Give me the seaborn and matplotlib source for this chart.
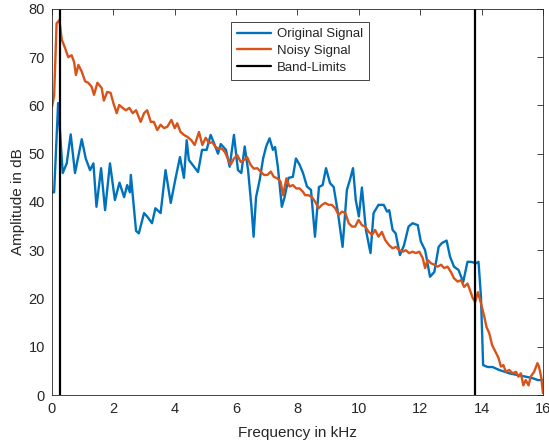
import matplotlib
matplotlib.use("Agg")
import matplotlib.pyplot as plt
import seaborn as sns

# Data
orig_f = [0.0, 0.07, 0.2, 0.35, 0.48, 0.61, 0.75, 0.97, 1.1, 1.24, 1.35, 1.45, 1.6, 1.73, 1.89,
          2.05, 2.2, 2.35, 2.45, 2.54, 2.57, 2.74, 2.83, 3.0, 3.1, 3.26, 3.37, 3.54, 3.7, 3.87,
          4.03, 4.17, 4.3, 4.39, 4.46, 4.63, 4.76, 4.89, 5.04, 5.17, 5.28, 5.41, 5.5, 5.67, 5.79,
          5.93, 6.06, 6.17, 6.28, 6.39, 6.5, 6.57, 6.65, 6.77, 6.88, 6.98, 7.09, 7.2, 7.27, 7.36,
          7.49, 7.58, 7.71, 7.85, 7.95, 8.07, 8.18, 8.31, 8.44, 8.57, 8.7, 8.82, 8.93, 9.06, 9.18,
          9.32, 9.47, 9.61, 9.71, 9.81, 9.9, 10.0, 10.1, 10.23, 10.38, 10.48, 10.64, 10.81, 10.92,
          10.99, 11.1, 11.2, 11.34, 11.47, 11.62, 11.75, 11.92, 12.02, 12.16, 12.32, 12.46, 12.6,
          12.71, 12.86, 12.97, 13.1, 13.25, 13.4, 13.54, 13.65, 13.82, 13.9, 13.98, 14.05, 14.2,
          14.36, 14.57, 14.9, 15.2, 15.44, 15.66, 15.83, 16.0]
orig_db = [42, 42, 60.5, 46, 48, 54, 46, 53, 49, 46.6, 48, 39, 47, 38.3, 48,
           40.4, 44, 41, 43.5, 42, 45.6, 34, 33.5, 37.7, 37, 35.6, 38.7, 37.7, 46.6, 39.8,
           45, 49.3, 45, 52.8, 48.7, 47.3, 46.2, 50.8, 50.8, 53.9, 52.2, 50, 52, 50.8, 47.3,
           53.9, 46.6, 46, 51.5, 46.6, 39, 32.8, 41, 44.6, 49, 51.5, 53.2, 50.8, 51.4, 47.3,
           39, 41, 45, 45.2, 49, 47.7, 46, 43.2, 42.5, 32.8, 43.1, 43.5, 47, 43.9, 43.1,
           37.7, 30.7, 42.5, 44.6, 47, 40.4, 37, 43, 34.2, 29.4, 37.7, 39.4, 39.4, 38,
           38.3, 34.2, 33.5, 29, 31, 34.9, 35.6, 35.2, 31.8, 30, 24.5, 25.5, 30.7,
           31.5, 32, 28.7, 26.6, 25.9, 23.4, 27.6, 27.6, 27.3, 27.6, 20.3, 6.2, 5.8,
           5.8, 5.2, 4.5, 4.1, 3.8, 3.5, 3.1, 3.1]

noisy_f = [0.0, 0.07, 0.15, 0.24, 0.32, 0.42, 0.53, 0.64, 0.72, 0.78, 0.86, 0.97, 1.08, 1.18,
           1.29, 1.37, 1.48, 1.62, 1.69, 1.8, 1.91, 2.0, 2.11, 2.19, 2.3, 2.41, 2.52, 2.63, 2.74,
           2.89, 3.0, 3.1, 3.22, 3.32, 3.43, 3.54, 3.65, 3.76, 3.89, 4.0, 4.08, 4.19, 4.3, 4.41,
           4.54, 4.65, 4.79, 4.9, 5.01, 5.12, 5.22, 5.33, 5.44, 5.52, 5.63, 5.73, 5.82, 5.93,
           6.04, 6.15, 6.26, 6.36, 6.47, 6.58, 6.69, 6.8, 6.91, 7.02, 7.13, 7.23, 7.34, 7.45,
           7.53, 7.64, 7.74, 7.85, 7.96, 8.07, 8.18, 8.25, 8.36, 8.47, 8.58, 8.69, 8.8, 8.9,
           9.02, 9.12, 9.23, 9.34, 9.45, 9.56, 9.67, 9.78, 9.88, 9.99, 10.1, 10.21, 10.32,
           10.43, 10.53, 10.64, 10.75, 10.86, 10.99, 11.1, 11.21, 11.32, 11.43, 11.53, 11.64,
           11.75, 11.86, 11.97, 12.08, 12.16, 12.24, 12.35, 12.46, 12.57, 12.68, 12.78, 12.89,
           13.0, 13.1, 13.22, 13.33, 13.43, 13.54, 13.6, 13.71, 13.79, 13.88, 13.98, 14.09,
           14.16, 14.25, 14.34, 14.45, 14.55, 14.63, 14.71, 14.79, 14.9, 15.01, 15.12, 15.2,
           15.28, 15.36, 15.44, 15.53, 15.6, 15.71, 15.82, 15.87, 15.94, 16.0]
noisy_db = [59.7, 62, 77, 77.7, 73.6, 72, 70, 70.4, 69, 66.3, 68.4, 67, 65, 64.7,
            63.9, 62.2, 64.7, 63.6, 61, 62.8, 62.6, 60.5, 58.4, 60.1, 59.5, 59, 59.5, 58.4, 59,
            56.6, 58.4, 59, 56.6, 56.6, 54.9, 56, 55.3, 55.6, 57, 55.3, 56.3, 54.5, 53.9, 53.5,
            52.8, 51.8, 54.5, 51.8, 53.3, 52.2, 52.4, 51.4, 51, 51.1, 50.4, 49, 47.7, 49,
            49.7, 48.3, 48.7, 49.3, 47.7, 46.9, 47, 46.3, 45.6, 45.6, 46.3, 45.2, 44.9, 44.2,
            41.4, 44.9, 43.2, 43.5, 42.8, 42.8, 42.1, 41.4, 41.4, 41, 40, 38.7, 39.4, 39.8,
            39.4, 39.4, 38.7, 37.3, 38, 37.7, 35.6, 34.9, 34.9, 36.3, 35.2, 34.9, 33.8,
            33.2, 34.2, 32.8, 33.8, 32.1, 31, 30.4, 30.7, 30, 29.7, 30, 29.4,
            29.7, 29.4, 29.7, 28.4, 26.3, 28, 27.3, 27, 26.6, 27, 26.3, 26.6,
            25.5, 24.2, 23.5, 23.8, 22.4, 23.1, 22.1, 20.1, 19.3, 21.3, 19, 16.2,
            14.1, 12.8, 10.4, 9, 7.7, 5.9, 6.2, 4.8, 5.2, 4.5, 4.8, 3.8,
            4.5, 2, 3.1, 2, 3.8, 4.8, 6.6, 5.9, 3.8, 0.4]

band_limits = [0.27, 13.8]
labels = ["Original Signal", "Noisy Signal", "Band-Limits"]

sns.set_style("white")
plt.rcParams['font.family'] = ['Liberation Sans', 'DejaVu Sans']

fig = plt.figure(figsize=(5.49, 4.46), dpi=100)
ax = fig.add_axes([0.0947, 0.1143, 0.8943, 0.8657])

sns.lineplot(x=orig_f, y=orig_db, ax=ax, color='#0072BD', linewidth=1.7, label=labels[0])
sns.lineplot(x=noisy_f, y=noisy_db, ax=ax, color='#D95319', linewidth=1.7, label=labels[1])
ax.axvline(band_limits[0], color='black', linewidth=1.6, label=labels[2])
ax.axvline(band_limits[1], color='black', linewidth=1.6)

ax.set_xlim(0, 16)
ax.set_ylim(0, 80)
ax.set_xticks(range(0, 17, 2))
ax.set_yticks(range(0, 81, 10))
ax.tick_params(direction='in', top=True, right=True, length=4, width=0.6,
               color='#262626', labelcolor='#262626', labelsize=10.5, pad=5)
for s in ax.spines.values():
    s.set_color('#262626')
    s.set_linewidth(0.6)
ax.set_xlabel("Frequency in kHz", fontsize=11, color='#262626', labelpad=7)
ax.set_ylabel("Amplitude in dB", fontsize=11, color='#262626', labelpad=3)

leg = ax.legend(loc='upper left', bbox_to_anchor=(0.3646, 0.966), borderaxespad=0,
                fontsize=9.5, fancybox=False, framealpha=1, edgecolor='#262626',
                handlelength=2.6, borderpad=0.45, labelspacing=0.35, handletextpad=0.4)
leg.get_frame().set_linewidth(0.6)

fig.savefig("out.png", dpi=100)
plt.close()
